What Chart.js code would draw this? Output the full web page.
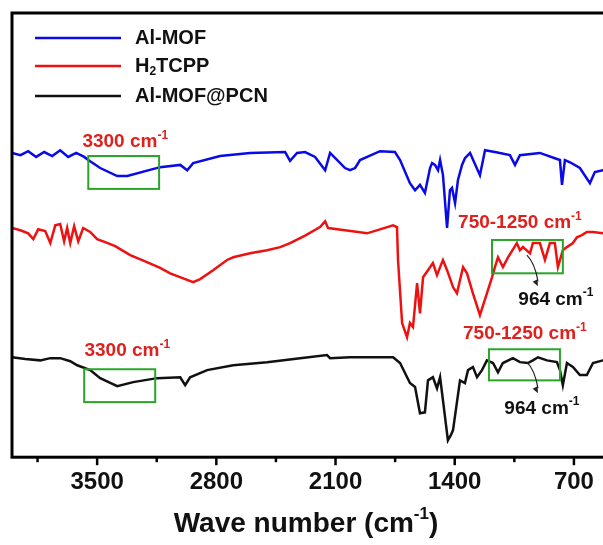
<!DOCTYPE html>
<html>
<head>
<meta charset="utf-8">
<script src="https://cdn.jsdelivr.net/npm/chart.js@4.4.0/dist/chart.umd.min.js"></script>
<style>
  html, body { margin: 0; padding: 0; background: #fff; overflow: hidden; }
  #ftir { display: block; }
</style>
</head>
<body>
<canvas id="ftir" width="630" height="545"></canvas>
<script>
// FTIR spectra, wave number (cm-1) vs transmittance (a.u., offset)
const alMofWave = [4000, 3950, 3905, 3858, 3811, 3764, 3717, 3670, 3623, 3576, 3552, 3482, 3382, 3323, 3130, 3012, 2971, 2936, 2778, 2602, 2396, 2367, 2326, 2279, 2220, 2161, 2132, 2044, 2015, 1985, 1956, 1839, 1751, 1721, 1663, 1633, 1604, 1575, 1545, 1533, 1516, 1498, 1486, 1469, 1445, 1428, 1416, 1398, 1381, 1357, 1340, 1310, 1252, 1222, 1164, 1076, 1046, 1017, 900, 812, 782, 770, 753, 723, 665, 606, 577, 530, 450, 400];
const alMofT = [68.5, 68.0, 68.9, 67.6, 68.7, 67.8, 69.1, 67.6, 68.5, 67.6, 66.9, 65.1, 63.3, 63.3, 65.3, 65.8, 64.6, 66.2, 67.8, 68.5, 68.7, 66.7, 68.5, 68.7, 67.6, 64.6, 68.5, 65.1, 64.6, 65.1, 66.9, 68.9, 68.7, 66.9, 61.7, 60.1, 61.3, 59.5, 65.1, 66.2, 65.8, 64.6, 66.9, 63.5, 51.6, 60.1, 60.6, 57.2, 62.4, 65.8, 67.3, 68.5, 63.5, 69.1, 68.7, 68.0, 65.8, 68.0, 68.5, 67.3, 66.9, 61.3, 66.9, 66.4, 65.1, 61.7, 64.2, 64.6, 65.0, 65.2];

const tcppWave = [4000, 3951, 3905, 3875, 3846, 3805, 3775, 3746, 3717, 3694, 3676, 3658, 3635, 3611, 3582, 3541, 3500, 3453, 3394, 3306, 3218, 3130, 3071, 2983, 2936, 2895, 2819, 2737, 2701, 2602, 2502, 2425, 2367, 2279, 2191, 2161, 2144, 2044, 1915, 1839, 1762, 1739, 1733, 1709, 1680, 1663, 1645, 1621, 1604, 1586, 1557, 1528, 1504, 1486, 1469, 1445, 1410, 1387, 1351, 1328, 1293, 1252, 1211, 1181, 1164, 1146, 1117, 1087, 1035, 1017, 999, 958, 941, 900, 870, 841, 812, 794, 765, 741, 706, 682, 653, 624, 588, 530, 450, 400];
const tcppT = [51.6, 51.1, 50.4, 49.1, 51.3, 50.9, 48.2, 52.2, 52.5, 48.6, 51.6, 48.2, 52.0, 48.6, 51.6, 50.7, 49.1, 48.4, 47.5, 45.5, 44.1, 42.6, 41.4, 40.1, 39.4, 40.1, 42.1, 44.4, 45.0, 45.9, 46.6, 47.3, 48.2, 49.9, 51.8, 53.1, 51.6, 51.1, 50.4, 51.3, 52.2, 51.8, 44.4, 30.2, 27.0, 30.2, 29.3, 39.2, 32.4, 40.5, 42.1, 43.7, 41.0, 42.8, 44.4, 42.1, 38.3, 36.9, 42.8, 41.4, 36.9, 32.0, 36.9, 40.5, 42.8, 45.0, 42.8, 45.0, 48.2, 46.6, 47.3, 45.9, 48.2, 48.2, 44.4, 48.2, 48.2, 42.8, 46.6, 47.3, 48.2, 49.5, 50.0, 50.7, 50.7, 50.4, 50.6, 50.8];

const pcnWave = [4000, 3922, 3834, 3775, 3717, 3658, 3617, 3541, 3482, 3382, 3288, 3147, 3012, 2983, 2954, 2854, 2701, 2502, 2308, 2150, 2132, 2015, 1762, 1721, 1663, 1633, 1604, 1575, 1557, 1528, 1504, 1486, 1469, 1440, 1422, 1410, 1369, 1340, 1322, 1293, 1269, 1240, 1211, 1175, 1146, 1117, 1058, 1017, 970, 941, 911, 858, 800, 782, 765, 741, 706, 665, 624, 588, 530, 450, 400];
const pcnT = [22.5, 22.1, 21.8, 22.3, 22.3, 21.6, 20.7, 19.6, 17.8, 16.0, 16.9, 17.8, 18.0, 16.2, 18.0, 19.6, 20.7, 21.4, 22.3, 23.0, 22.3, 22.5, 22.5, 21.2, 16.7, 15.8, 9.9, 10.1, 17.3, 18.0, 15.5, 18.0, 12.8, 3.8, 5.0, 6.1, 17.3, 16.7, 19.6, 20.3, 18.0, 19.6, 21.8, 21.2, 19.1, 21.2, 22.3, 21.4, 21.2, 21.8, 22.5, 21.8, 21.4, 19.6, 16.2, 21.2, 20.3, 18.5, 18.5, 21.2, 21.8, 22.0, 22.1];

const seriesNames = ['Al-MOF', 'H2TCPP', 'Al-MOF@PCN'];
const seriesColors = ['#0a0ae6', '#ee1111', '#111111'];
const tickValues = [3850, 3500, 3150, 2800, 2450, 2100, 1750, 1400, 1050, 700];

// highlighted regions: [wave from, wave to, T low, T high]
const boxes = [
  [3552, 3136, 60.4, 67.8],
  [3576, 3159, 12.4, 19.8],
  [1181, 765, 41.4, 48.9],
  [1199, 782, 17.3, 24.3]
];
// notes: [main text, superscript, wave, T, colour]
const notes = [
  ['3300 cm', '-1', 3335, 70.9, '#e0201c'],
  ['3300 cm', '-1', 3323, 23.9, '#e0201c'],
  ['750-1250 cm', '-1', 1017, 52.7, '#e0201c'],
  ['964 cm', '-1', 806, 35.4, '#111'],
  ['750-1250 cm', '-1', 988, 27.7, '#e0201c'],
  ['964 cm', '-1', 888, 11.0, '#111']
];
// arrows: [wave from, T from, wave to, T to]
const arrows = [
  [976, 45.5, 911, 38.7],
  [976, 21.4, 911, 14.6]
];

const FONT = 'Arial, "Liberation Sans", sans-serif';

function toPoints(xs, ys) {
  return xs.map((x, i) => ({ x: x, y: ys[i] }));
}

// draw text pieces with super/subscripts, centred on x unless align = 'left'
function richText(ctx, parts, x, y, size, color, align) {
  const small = Math.round(size * 0.62);
  let total = 0;
  parts.forEach(p => {
    ctx.font = 'bold ' + (p.sup || p.sub ? small : size) + 'px ' + FONT;
    p.w = ctx.measureText(p.t).width;
    total += p.w;
  });
  let cx = align === 'left' ? x : x - total / 2;
  ctx.fillStyle = color;
  ctx.textAlign = 'left';
  ctx.textBaseline = 'middle';
  parts.forEach(p => {
    ctx.font = 'bold ' + (p.sup || p.sub ? small : size) + 'px ' + FONT;
    let dy = 0;
    if (p.sup) dy = -size * 0.36;
    if (p.sub) dy = size * 0.3;
    ctx.fillText(p.t, cx, y + dy);
    cx += p.w;
  });
}

const decor = {
  id: 'decor',
  afterDraw(chart) {
    const ctx = chart.ctx;
    const xs = chart.scales.x, ys = chart.scales.y;
    const a = chart.chartArea;
    ctx.save();

    // frame
    ctx.strokeStyle = '#000';
    ctx.lineWidth = 3;
    ctx.strokeRect(a.left, a.top, a.right - a.left, a.bottom - a.top);

    // ticks
    tickValues.forEach(v => {
      const px = xs.getPixelForValue(v);
      const major = v % 700 === 0;
      ctx.lineWidth = 2.5;
      ctx.beginPath();
      ctx.moveTo(px, a.bottom);
      ctx.lineTo(px, a.bottom + (major ? 8 : 5));
      ctx.stroke();
    });

    // green boxes
    ctx.strokeStyle = '#2aa52a';
    ctx.lineWidth = 2;
    boxes.forEach(b => {
      const x1 = xs.getPixelForValue(b[0]), x2 = xs.getPixelForValue(b[1]);
      const y1 = ys.getPixelForValue(b[3]), y2 = ys.getPixelForValue(b[2]);
      ctx.strokeRect(x1, y1, x2 - x1, y2 - y1);
    });

    // arrows
    ctx.strokeStyle = '#222';
    ctx.fillStyle = '#222';
    ctx.lineWidth = 1.2;
    arrows.forEach(r => {
      const x1 = xs.getPixelForValue(r[0]), y1 = ys.getPixelForValue(r[1]);
      const x2 = xs.getPixelForValue(r[2]), y2 = ys.getPixelForValue(r[3]);
      ctx.beginPath();
      ctx.moveTo(x1, y1);
      ctx.quadraticCurveTo(x1 + 8, y1 + 8, x2, y2 - 4);
      ctx.stroke();
      const ang = Math.atan2(6, 3);
      ctx.beginPath();
      ctx.moveTo(x2, y2 + 1);
      ctx.lineTo(x2 - 7 * Math.cos(ang - 0.4), y2 + 1 - 7 * Math.sin(ang - 0.4));
      ctx.lineTo(x2 - 7 * Math.cos(ang + 0.4), y2 + 1 - 7 * Math.sin(ang + 0.4));
      ctx.closePath();
      ctx.fill();
    });

    // notes
    notes.forEach(n => {
      richText(ctx, [{ t: n[0] }, { t: n[1], sup: true }],
        xs.getPixelForValue(n[2]), ys.getPixelForValue(n[3]), 19, n[4]);
    });

    // legend
    const legendY = [38, 66, 96];
    const legendParts = [
      [{ t: 'Al-MOF' }],
      [{ t: 'H' }, { t: '2', sub: true }, { t: 'TCPP' }],
      [{ t: 'Al-MOF@PCN' }]
    ];
    legendY.forEach((ly, i) => {
      ctx.strokeStyle = seriesColors[i];
      ctx.lineWidth = 2.5;
      ctx.beginPath();
      ctx.moveTo(a.left + 23, ly);
      ctx.lineTo(a.left + 109, ly);
      ctx.stroke();
      richText(ctx, legendParts[i], a.left + 123, ly, 20, '#111', 'left');
    });

    // axis title
    richText(ctx, [{ t: 'Wave number (cm' }, { t: '-1', sup: true }, { t: ')' }],
      306, 524, 28, '#111');

    ctx.restore();
  }
};

new Chart(document.getElementById('ftir').getContext('2d'), {
  type: 'line',
  data: {
    datasets: [
      { label: seriesNames[0], data: toPoints(alMofWave, alMofT), borderColor: seriesColors[0] },
      { label: seriesNames[1], data: toPoints(tcppWave, tcppT), borderColor: seriesColors[1] },
      { label: seriesNames[2], data: toPoints(pcnWave, pcnT), borderColor: seriesColors[2] }
    ]
  },
  options: {
    responsive: false,
    animation: false,
    layout: { padding: { left: 12, top: 13, right: 5, bottom: 45 } },
    elements: {
      line: { borderWidth: 2.5, tension: 0, fill: false },
      point: { radius: 0 }
    },
    plugins: { legend: { display: false }, tooltip: { enabled: false } },
    scales: {
      x: {
        type: 'linear',
        reverse: true,
        min: 400,
        max: 4000,
        afterBuildTicks: scale => { scale.ticks = tickValues.map(v => ({ value: v })); },
        grid: { display: false },
        border: { display: false },
        ticks: {
          padding: 3,
          color: '#111',
          font: { family: FONT, size: 24, weight: 'bold' },
          maxRotation: 0,
          autoSkip: false,
          callback: v => (v % 700 === 0 ? String(v) : '')
        }
      },
      y: { display: false, min: 0, max: 100 }
    }
  },
  plugins: [decor]
});
</script>
</body>
</html>
